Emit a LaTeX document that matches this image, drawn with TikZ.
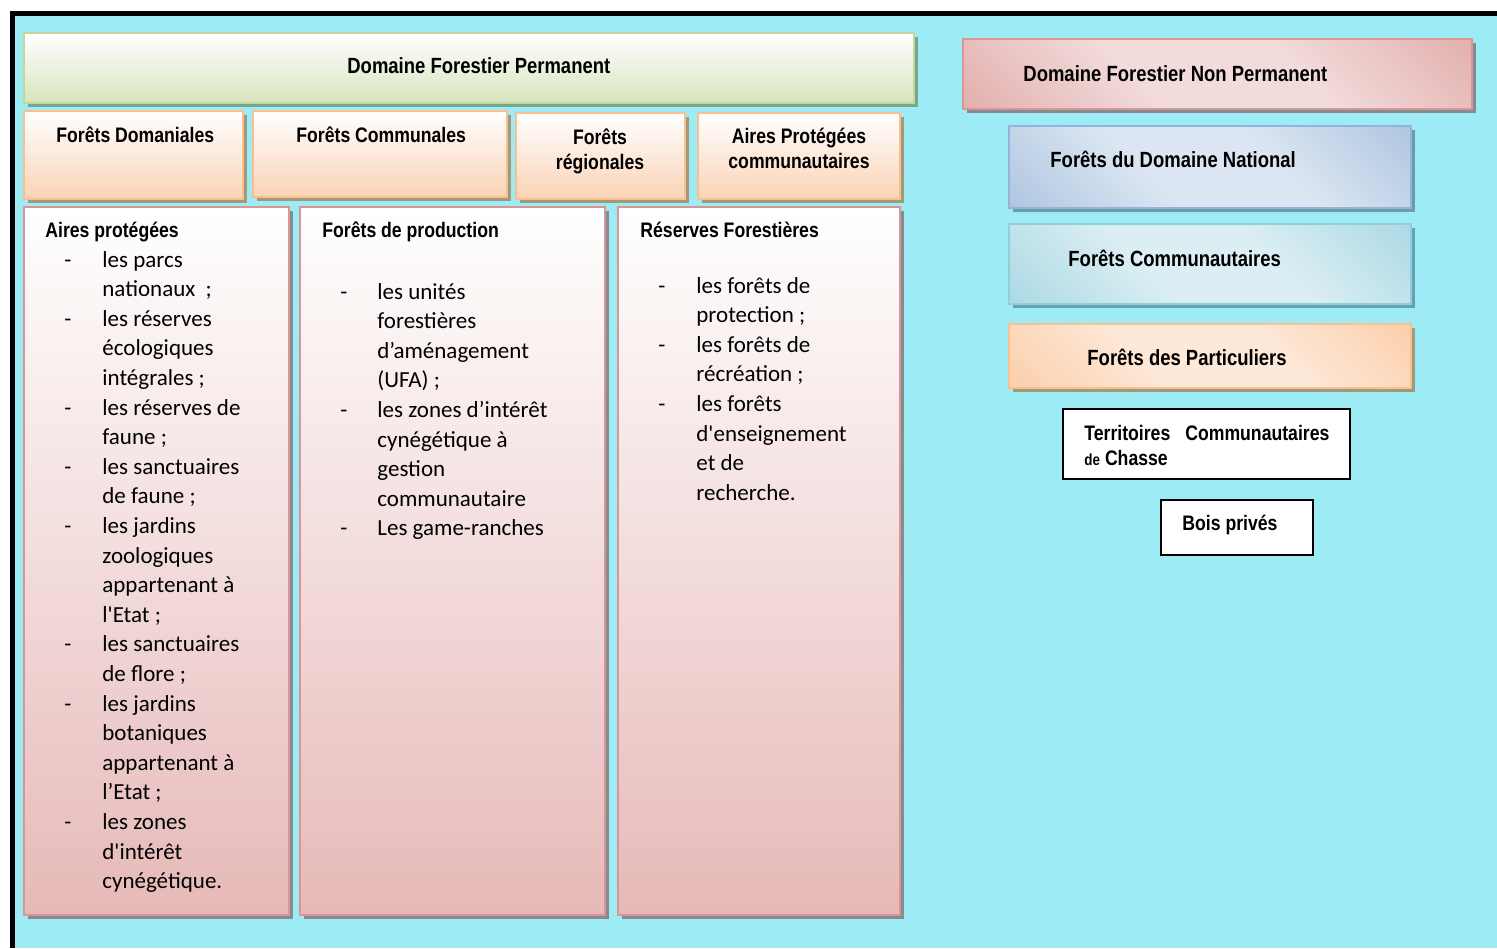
\documentclass[tikz,border=0pt]{standalone}
\usepackage{fontspec}
\setmainfont{Carlito}
\newfontfamily\hdfont[FakeStretch=0.84]{Liberation Sans}
\usetikzlibrary{fit,shadows}
\definecolor{Sky}{HTML}{9DECF5}
\definecolor{Leaf}{HTML}{D7E4BD}
\definecolor{LeafLine}{HTML}{C3D69B}
\definecolor{LeafShade}{HTML}{77A68C}
\definecolor{Peach}{HTML}{FAD3B6}
\definecolor{PeachLine}{HTML}{F9BF8F}
\definecolor{PeachShade}{HTML}{A09A7B}
\definecolor{Rose}{HTML}{E6B9B8}
\definecolor{RoseLine}{HTML}{D99694}
\definecolor{RoseLight}{HTML}{F2DCDB}
\definecolor{RoseShade}{HTML}{858B90}
\definecolor{Steel}{HTML}{95B3D7}
\definecolor{SteelLight}{HTML}{DCE6F2}
\definecolor{SteelShade}{HTML}{6A9BAF}
\definecolor{Aqua}{HTML}{92CDDC}
\definecolor{AquaLight}{HTML}{DAEEF3}
\definecolor{AquaShade}{HTML}{65A3B4}
\definecolor{Apricot}{HTML}{FAC090}
\definecolor{ApricotLight}{HTML}{FDE9D9}
% diagonal sheen of the right-hand boxes
\pgfdeclarehorizontalshading{sheenRose}{100bp}{color(0bp)=(RoseLine); color(40bp)=(RoseLight); color(60bp)=(RoseLight); color(100bp)=(RoseLine)}
\pgfdeclarehorizontalshading{sheenSteel}{100bp}{color(0bp)=(Steel); color(40bp)=(SteelLight); color(60bp)=(SteelLight); color(100bp)=(Steel)}
\pgfdeclarehorizontalshading{sheenAqua}{100bp}{color(0bp)=(Aqua); color(40bp)=(AquaLight); color(60bp)=(AquaLight); color(100bp)=(Aqua)}
\pgfdeclarehorizontalshading{sheenApricot}{100bp}{color(0bp)=(Apricot); color(40bp)=(ApricotLight); color(60bp)=(ApricotLight); color(100bp)=(Apricot)}

\begin{document}
\begin{tikzpicture}[x=0.5pt,y=-0.5pt,
    panel/.style={inner sep=0pt,line width=1pt},
    boxshadow/.style={drop shadow={shadow xshift=2pt,shadow yshift=-2pt,fill=#1,opacity=1}},
    vgrad/.style 2 args={panel,draw=#1,top color=white,bottom color=#2},
    dgrad/.style 2 args={panel,draw=#1,shade,shading=#2,shading angle=45},
    plain/.style={panel,draw=black,fill=white},
    hd/.style={font=\hdfont\bfseries\fontsize{10.5}{12.5}\selectfont,inner sep=0pt},
    bighd/.style={font=\hdfont\bfseries\fontsize{11}{13}\selectfont,inner sep=0pt},
    items/.style={font=\fontsize{11.5}{14.8}\selectfont,inner sep=0pt}]

  % frame
  \fill[white] (0,0) rectangle (1497,948);
  \fill[black] (10,11) rectangle (1497,948);
  \fill[Sky] (15,16) rectangle (1497,948);
  \useasboundingbox (0,0) rectangle (1497,948);

  % domaine permanent
  \node[vgrad={LeafLine}{Leaf},boxshadow=LeafShade,fit={(24,33) (914,103)}] (dfp) {};
  \node[bighd,anchor=base west] (tdfp) at (347,73) {Domaine Forestier Permanent};

  \node[vgrad={PeachLine}{Peach},boxshadow=PeachShade,fit={(24,111) (243,199)}] (fdom) {};
  \node[vgrad={PeachLine}{Peach},boxshadow=PeachShade,fit={(253,111) (507,197)}] (fcom) {};
  \node[vgrad={PeachLine}{Peach},boxshadow=PeachShade,fit={(516,113) (685,199)}] (freg) {};
  \node[vgrad={PeachLine}{Peach},boxshadow=PeachShade,fit={(698,113) (900,199)}] (apc) {};
  \node[hd,anchor=base west] (tfdom) at (56,142) {Forêts Domaniales};
  \node[hd,anchor=base west] (tfcom) at (296,142) {Forêts Communales};
  \node[hd,align=center,anchor=north] (tfreg) at (600,128) {Forêts\\régionales};
  \node[hd,align=center,anchor=north] (tapc) at (799,128) {Aires Protégées\\communautaires};

  \node[vgrad={RoseLine}{Rose},boxshadow=RoseShade,fit={(24,207) (289,915)}] (aires) {};
  \node[vgrad={RoseLine}{Rose},boxshadow=RoseShade,fit={(300,207) (605,915)}] (prod) {};
  \node[vgrad={RoseLine}{Rose},boxshadow=RoseShade,fit={(618,207) (900,915)}] (res) {};
  \node[hd,anchor=base west] (taires) at (45,237) {Aires protégées};
  \node[hd,anchor=base west] (tprod) at (322,237) {Forêts de production};
  \node[hd,anchor=base west] (tres) at (640,237) {Réserves Forestières};

  \node[items,anchor=base west] (laires) at (64,267) {\begin{tabular}[t]{@{}p{19pt}@{}l@{}}
    - & les parcs\\ & nationaux~ ;\\
    - & les réserves\\ & écologiques\\ & intégrales ;\\
    - & les réserves de\\ & faune ;\\
    - & les sanctuaires\\ & de faune ;\\
    - & les jardins\\ & zoologiques\\ & appartenant à\\ & l\textquotesingle Etat ;\\
    - & les sanctuaires\\ & de flore ;\\
    - & les jardins\\ & botaniques\\ & appartenant à\\ & l’Etat ;\\
    - & les zones\\ & d\textquotesingle intérêt\\ & cynégétique.
  \end{tabular}};
  \node[items,anchor=base west] (lprod) at (340,299) {\begin{tabular}[t]{@{}p{18.5pt}@{}l@{}}
    - & les unités\\ & forestières\\ & d’aménagement\\ & (UFA) ;\\
    - & les zones d’intérêt\\ & cynégétique à\\ & gestion\\ & communautaire\\
    - & Les game-ranches
  \end{tabular}};
  \node[items,anchor=base west] (lres) at (658,293) {\begin{tabular}[t]{@{}p{19pt}@{}l@{}}
    - & les forêts de\\ & protection ;\\
    - & les forêts de\\ & récréation ;\\
    - & les forêts\\ & d\textquotesingle enseignement\\ & et de\\ & recherche.
  \end{tabular}};

  % domaine non permanent
  \node[dgrad={RoseLine}{sheenRose},boxshadow=RoseShade,fit={(963,39) (1472,109)}] (dfnp) {};
  \node[dgrad={Steel}{sheenSteel},boxshadow=SteelShade,fit={(1009,126) (1411,208)}] (fdn) {};
  \node[dgrad={Aqua}{sheenAqua},boxshadow=AquaShade,fit={(1009,224) (1411,304)}] (fcmt) {};
  \node[dgrad={Apricot}{sheenApricot},boxshadow=PeachShade,fit={(1009,324) (1411,388)}] (fpart) {};
  \node[bighd,anchor=base west] (tdfnp) at (1023,81) {Domaine Forestier Non Permanent};
  \node[bighd,anchor=base west] (tfdn) at (1050,167) {Forêts du Domaine National};
  \node[bighd,anchor=base west] (tfcmt) at (1068,266) {Forêts Communautaires};
  \node[bighd,anchor=base west] (tfpart) at (1087,365) {Forêts des Particuliers};

  \node[plain,fit={(1063,409) (1350,479)}] (tcc) {};
  \node[plain,fit={(1161,500) (1313,555)}] (bois) {};
  \node[hd,align=left,anchor=north west] (ttcc) at (1084,425)
    {\makebox[122.5pt][s]{Territoires Communautaires}\\{\fontsize{8}{9}\selectfont de} Chasse};
  \node[hd,anchor=base west] (tbois) at (1182,530) {Bois privés};
\end{tikzpicture}
\end{document}
